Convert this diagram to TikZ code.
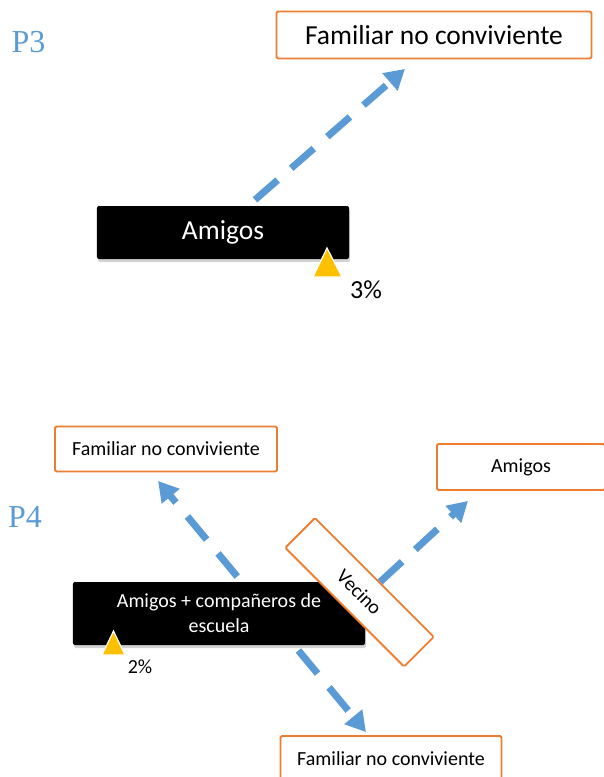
\documentclass[tikz,border=0pt]{standalone}
\usepackage{fontspec}
\setmainfont{Carlito}
\newfontfamily\serifP{Liberation Serif}
\usetikzlibrary{arrows.meta, shadows, backgrounds}

\definecolor{flowblue}{RGB}{91,155,213}
\definecolor{boxorange}{RGB}{237,125,49}
\definecolor{warnyellow}{RGB}{255,192,0}

\tikzset{
  orangebox/.style = {draw = boxorange, line width = 1.8bp, fill = white, rounded corners = 1.5bp, inner sep = 0pt},
  blackbox/.style = {fill = black, text = white, rounded corners = 2bp, inner sep = 0pt, align = center,
    drop shadow = {shadow xshift = 1bp, shadow yshift = -3bp, opacity = 0.35}},
  flow/.style = {draw = flowblue, line width = 7bp, dash pattern = on 30bp off 18bp,
    -{Triangle[length = 20bp, width = 22bp]}},
  ptag/.style = {text = flowblue, font = \serifP\fontsize{32bp}{36bp}\selectfont},
  bigtext/.style = {font = \fontsize{27.5bp}{32bp}\selectfont},
  smalltext/.style = {font = \fontsize{20bp}{25bp}\selectfont},
  warn/.style = {fill = warnyellow, draw = white, line width = 1.2bp}
}

\begin{document}
\begin{tikzpicture}[x = 1bp, y = -1bp]
\useasboundingbox (0,0) rectangle (604,777);
\node[ptag] (pThree) at (28.5,42.5) {P3};
\node[orangebox, bigtext, minimum width = 315bp, minimum height = 47bp] (famTop) at (434,35) {Familiar no conviviente};
\node[blackbox, bigtext, minimum width = 252bp, minimum height = 53bp] (amigosTop) at (223,232.5) {Amigos};
\path[warn] (313,277) -- (327,248) -- (342,277) -- cycle;
\node[font = \fontsize{26bp}{30bp}\selectfont] (pctThree) at (366,290) {3\%};
\draw[flow] ([shift = {(32,-6)}]amigosTop.north) -- ([shift = {(-29,9.5)}]famTop.south);

\node[ptag] (pFour) at (25,517) {P4};
\node[orangebox, smalltext, minimum width = 222bp, minimum height = 45bp] (famLeft) at (166,449) {Familiar no conviviente};
\node[orangebox, smalltext, minimum width = 168bp, minimum height = 46bp] (amigosRight) at (521,467) {Amigos};
\node[orangebox, smalltext, minimum width = 221bp, minimum height = 45bp] (famBottom) at (391,758.5) {Familiar no conviviente};
\node[blackbox, smalltext, minimum width = 292bp, minimum height = 63bp] (amigosEsc) at (219,613.5) {Amigos + compañeros de\\escuela};
\node[orangebox, smalltext, rotate = -45, minimum width = 168bp, minimum height = 42bp] (vecino) at (359.5,592.3) {Vecino};
\path[warn] (102,655) -- (113.5,631) -- (125,655) -- cycle;
\node[smalltext] (pctTwo) at (140,666.5) {2\%};
\begin{scope}[on background layer]
\draw[flow] ([xshift = 49]amigosEsc.center) -- ([shift = {(-8,8.5)}]famLeft.south);
\draw[flow] ([xshift = 49]amigosEsc.center) -- ([shift = {(-25,-3)}]famBottom.north);
\draw[flow] ([shift = {(20.5,-10.3)}]vecino.center) -- ([shift = {(-53,10)}]amigosRight.south);
\end{scope}
\end{tikzpicture}
\end{document}
